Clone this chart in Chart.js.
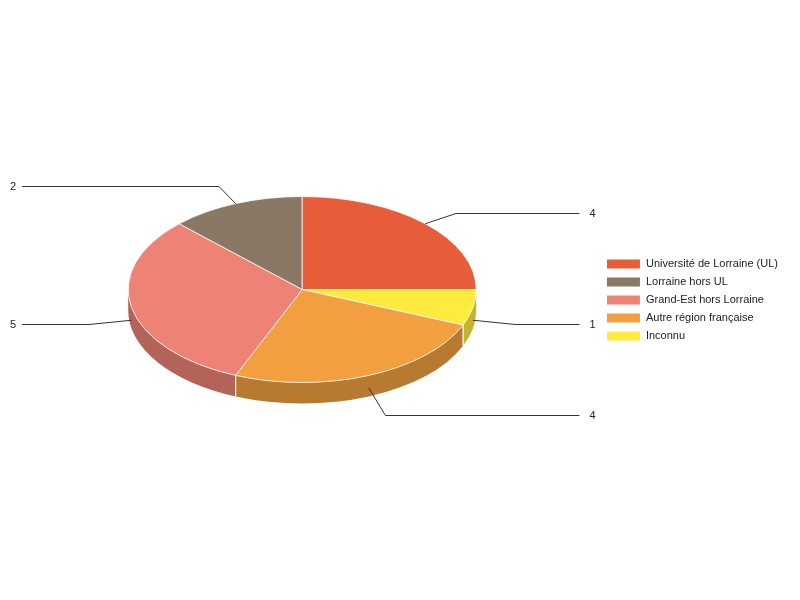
<!DOCTYPE html>
<html>
<head>
<meta charset="utf-8">
<script src="https://cdn.jsdelivr.net/npm/chart.js@4.4.0/dist/chart.umd.min.js"></script>
<style>
html, body { margin: 0; padding: 0; background: #fff; }
</style>
</head>
<body>
<canvas id="myChart" width="800" height="600"></canvas>
<script>
// slices go clockwise from 3 o'clock, so they are listed in reverse legend order
var categories = ['Inconnu', 'Autre région française', 'Grand-Est hors Lorraine', 'Lorraine hors UL', 'Université de Lorraine (UL)'];
var values = [1, 4, 5, 2, 4];
var colors = ['#FFEB3F', '#F2A03F', '#ED8275', '#8A7867', '#E85D39'];
var sideColors = ['#C4B432', '#B87A30', '#B46359', '#69594B', '#B0462A'];

var TILT = 93 / 174;   // height / width of the top face
var DEPTH = 21;        // thickness of the pie

function geom(chart) {
	var arc = chart.getDatasetMeta(0).data[0];
	var r = arc.outerRadius;
	return { cx: arc.x, cy: arc.y, top: arc.y - DEPTH / 2, rx: r, ry: r * TILT };
}

var pie3d = {
	id: 'pie3d',
	beforeDatasetsDraw: function(chart) {
		var ctx = chart.ctx;
		var g = geom(chart);
		var arcs = chart.getDatasetMeta(0).data;

		ctx.save();
		arcs.forEach(function(arc, i) {
			// only the front half of the rim can be seen
			var a1 = Math.max(arc.startAngle, 0);
			var a2 = Math.min(arc.endAngle, Math.PI);
			if (a2 <= a1) return;
			ctx.beginPath();
			ctx.ellipse(g.cx, g.top, g.rx, g.ry, 0, a1, a2);
			ctx.lineTo(g.cx + g.rx * Math.cos(a2), g.top + g.ry * Math.sin(a2) + DEPTH);
			ctx.ellipse(g.cx, g.top + DEPTH, g.rx, g.ry, 0, a2, a1, true);
			ctx.closePath();
			ctx.fillStyle = sideColors[i];
			ctx.fill();

			ctx.strokeStyle = '#fff';
			ctx.lineWidth = 1;
			[a1, a2].forEach(function(a) {
				if (a < 0.001 || a > Math.PI - 0.001) return;
				var x = g.cx + g.rx * Math.cos(a), y = g.top + g.ry * Math.sin(a);
				ctx.beginPath();
				ctx.moveTo(x, y);
				ctx.lineTo(x, y + DEPTH);
				ctx.stroke();
			});
		});
		ctx.restore();

		// squash the round pie into the top face
		ctx.save();
		ctx.translate(g.cx, g.top);
		ctx.scale(1, TILT);
		ctx.translate(-g.cx, -g.cy);
	},
	afterDatasetsDraw: function(chart) {
		var ctx = chart.ctx;
		ctx.restore();

		var g = geom(chart);
		var area = chart.chartArea;
		var arcs = chart.getDatasetMeta(0).data;

		ctx.save();
		ctx.strokeStyle = '#333';
		ctx.lineWidth = 1;
		ctx.fillStyle = '#222';
		ctx.font = '11px Arial, "Liberation Sans", sans-serif';
		ctx.textBaseline = 'middle';
		ctx.textAlign = 'left';
		arcs.forEach(function(arc, i) {
			var m = (arc.startAngle + arc.endAngle) / 2;
			var c = Math.cos(m), s = Math.sin(m);
			var front = s > 0;
			var x0 = g.cx + g.rx * c;
			var y0 = g.top + g.ry * s + (front ? DEPTH * 0.6 : 0);
			var x1 = g.cx + g.rx * 1.25 * c;
			var ky = front ? 1.2 : 1.1 + 0.1 * Math.abs(s) * Math.abs(s) / 0.85;
			var y1 = Math.round(g.top + g.ry * ky * s + (front ? DEPTH * (0.5 + 0.6 * s) : 0)) + 0.5;
			var right = c >= 0;
			var x2 = right ? area.right - 20 : area.left + 17;
			ctx.beginPath();
			ctx.moveTo(x0, y0);
			ctx.lineTo(x1, y1);
			ctx.lineTo(x2, y1);
			ctx.stroke();
			ctx.fillText(String(values[i]), right ? x2 + 10 : area.left + 5, y1);
		});
		ctx.restore();
	}
};

var ctx = document.getElementById('myChart');

var pieChart = new Chart(ctx, {
	type: 'pie',
	data: {
		labels: categories,
		datasets: [{
			data: values,
			backgroundColor: colors,
			borderColor: '#fff',
			borderWidth: 1
		}]
	},
	options: {
		responsive: false,
		animation: false,
		events: [],
		rotation: 90,
		radius: 174,
		layout: { padding: { left: 5, right: 12 } },
		plugins: {
			legend: {
				position: 'right',
				reverse: true,
				labels: {
					boxWidth: 34,
					boxHeight: 10,
					padding: 7,
					color: '#222',
					font: { family: 'Arial, "Liberation Sans", sans-serif', size: 11 }
				}
			},
			tooltip: { enabled: false }
		}
	},
	plugins: [pie3d]
});
</script>
</body>
</html>
